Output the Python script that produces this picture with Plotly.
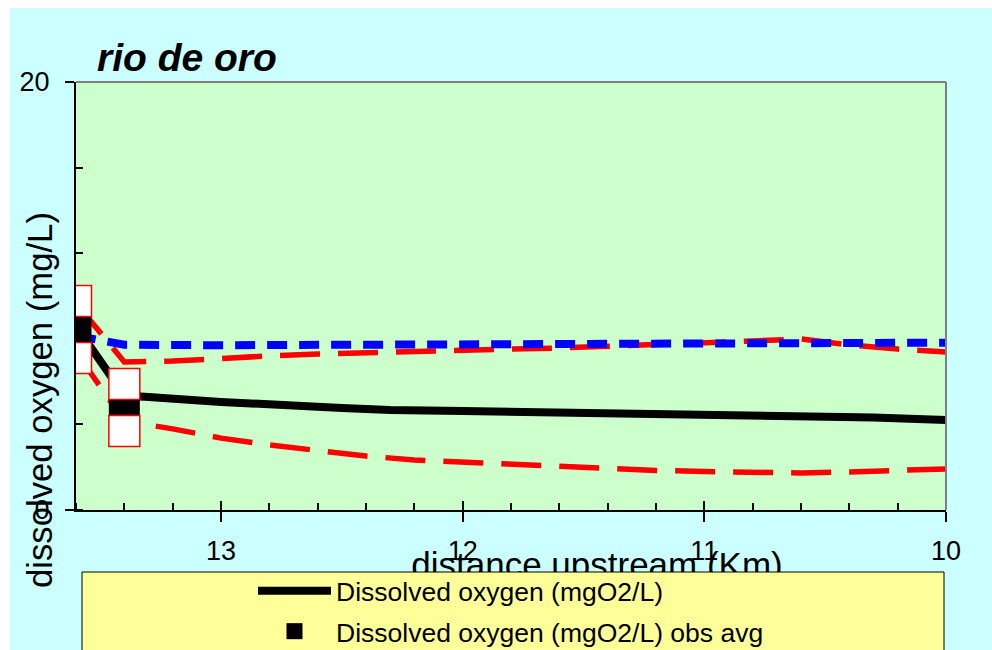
import plotly.graph_objects as go

# ---------------- data ----------------
model_km = [13.6, 13.4, 13.3, 13.0, 12.5, 12.3, 12.0, 11.5, 11.0, 10.6, 10.3, 10.0]
model_do = [8.60, 5.35, 5.28, 5.05, 4.77, 4.67, 4.63, 4.56, 4.49, 4.44, 4.32, 4.21]

sat_km = [13.6, 13.4, 13.0, 12.34, 12.0, 11.43, 11.0, 10.69, 10.0]
sat_do = [8.15, 7.72, 7.70, 7.71, 7.71, 7.74, 7.74, 7.75, 7.82]

band_km = [13.6, 13.4, 13.2, 13.0, 12.8, 12.6, 12.4, 12.2, 12.0, 11.8, 11.6, 11.4,
           11.2, 11.0, 10.8, 10.6, 10.4, 10.2, 10.0]
max_do = [9.67, 6.92, 6.96, 7.10, 7.20, 7.29, 7.36, 7.43, 7.48, 7.52, 7.57, 7.64,
          7.71, 7.80, 7.90, 7.99, 7.71, 7.52, 7.38]
min_do = [7.38, 4.16, 3.79, 3.36, 3.04, 2.76, 2.52, 2.34, 2.24, 2.10, 2.01, 1.92,
          1.85, 1.80, 1.75, 1.73, 1.78, 1.85, 1.92]

obs_km = [13.6, 13.4]
obs_avg = [8.41, 4.81]
obs_min = [7.10, 3.69]
obs_max = [9.77, 5.89]

x_ticks = [13, 12, 11, 10]
X_RANGE = [13.6, 10.0]
Y_RANGE = [0, 20]

# ---------------- layout helpers ----------------
W, H = 992, 650
L, R, T, B = 76, 946, 82, 510


def fx(px):
    return px / W


def fy(py):
    return 1 - py / H


FONT = "Liberation Sans, Arial, sans-serif"
BLACK = "#000000"

fig = go.Figure()

fig.add_trace(go.Scatter(x=band_km, y=min_do, mode="lines", name="Dissolved oxygen (mgO2/L) min",
                         line=dict(color="#FF0000", width=5.5, dash="40px,18px"), showlegend=False))
fig.add_trace(go.Scatter(x=band_km, y=max_do, mode="lines", name="Dissolved oxygen (mgO2/L) max",
                         line=dict(color="#FF0000", width=5.5, dash="40px,18px"), showlegend=False))
fig.add_trace(go.Scatter(x=sat_km, y=sat_do, mode="lines", name="Oxygen saturation (mgO2/L)",
                         line=dict(color="#0000FF", width=8, dash="20px,12px"), showlegend=False))
fig.add_trace(go.Scatter(x=model_km, y=model_do, mode="lines", name="Dissolved oxygen (mgO2/L)",
                         line=dict(color=BLACK, width=8), legendrank=1, legendgroup="g1"))
fig.add_trace(go.Scatter(x=obs_km, y=obs_avg, mode="markers", name="Dissolved oxygen (mgO2/L) obs avg",
                         marker=dict(symbol="square", size=31, color=BLACK), legendrank=2, legendgroup="g2"))
fig.add_trace(go.Scatter(x=obs_km, y=obs_min, mode="markers", name="Dissolved oxygen (mgO2/L) obs min",
                         marker=dict(symbol="square", size=31, color="#FFFFFF",
                                     line=dict(color="#FF0000", width=1.5)), showlegend=False))
fig.add_trace(go.Scatter(x=obs_km, y=obs_max, mode="markers", name="Dissolved oxygen (mgO2/L) obs max",
                         marker=dict(symbol="square", size=31, color="#FFFFFF",
                                     line=dict(color="#FF0000", width=1.5)), showlegend=False))

# overlay axes for the inward half of the crossing major ticks
fig.add_trace(go.Scatter(x=[X_RANGE[0]], y=[Y_RANGE[0]], xaxis="x2", yaxis="y2", mode="markers",
                         marker=dict(opacity=0), showlegend=False, hoverinfo="skip"))

# x-axis title on a full-figure pixel subplot, drawn under the legend box (clipped like the original)
fig.add_trace(go.Scatter(x=[597], y=[568], xaxis="x3", yaxis="y3", mode="text",
                         text=["distance upstream (Km)"],
                         textfont=dict(family=FONT, size=35, color=BLACK),
                         cliponaxis=False, showlegend=False, hoverinfo="skip"))

dom_x = [fx(L), fx(R)]
dom_y = [fy(B), fy(T)]

fig.update_layout(
    width=W, height=H,
    margin=dict(l=0, r=0, t=0, b=0, autoexpand=False),
    paper_bgcolor="#CCFFFF",
    plot_bgcolor="rgba(0,0,0,0)",
    title=dict(text="rio de oro", x=fx(97), xref="paper", xanchor="left",
               y=1 - 57 / H, yref="container", yanchor="middle",
               font=dict(family=FONT, size=39, color=BLACK, weight="bold", style="italic")),
    xaxis=dict(domain=dom_x, anchor="y", range=X_RANGE, tickmode="array", tickvals=x_ticks,
               ticktext=[str(v) for v in x_ticks],
               ticks="outside", ticklen=10, tickwidth=2, tickcolor=BLACK,
               ticklabelstandoff=6,
               minor=dict(ticks="inside", ticklen=7, tickwidth=2, tickcolor=BLACK, dtick=0.2, tick0=10),
               showline=True, linecolor=BLACK, linewidth=2, showgrid=False, zeroline=False,
               tickfont=dict(family=FONT, size=27, color=BLACK)),
    yaxis=dict(domain=dom_y, anchor="x", range=Y_RANGE, tick0=0, dtick=20,
               ticks="outside", ticklen=9, tickwidth=2, tickcolor=BLACK,
               ticklabelstandoff=10,
               minor=dict(ticks="inside", ticklen=7, tickwidth=2, tickcolor=BLACK, dtick=4, tick0=0),
               showline=True, linecolor=BLACK, linewidth=2, showgrid=False, zeroline=False,
               tickfont=dict(family=FONT, size=27, color=BLACK)),
    xaxis2=dict(overlaying="x", matches="x", side="bottom", anchor="y", showticklabels=False,
                ticks="inside", ticklen=9, tickwidth=2, tickcolor=BLACK,
                tickmode="array", tickvals=x_ticks, showgrid=False, showline=False, zeroline=False),
    yaxis2=dict(overlaying="y", matches="y", side="left", anchor="x", showticklabels=False,
                ticks="inside", ticklen=9, tickwidth=2, tickcolor=BLACK,
                tickmode="array", tickvals=[0, 20], showgrid=False, showline=False, zeroline=False),
    xaxis3=dict(domain=[0, 1], anchor="y3", range=[0, W], visible=False, fixedrange=True),
    yaxis3=dict(domain=[0, 1], anchor="x3", range=[H, 0], visible=False, fixedrange=True),
    legend=dict(x=fx(253), y=fy(567), xanchor="left", yanchor="top", bgcolor="rgba(0,0,0,0)",
                borderwidth=0, itemwidth=73, tracegroupgap=3,
                font=dict(family=FONT, size=26.5, color=BLACK)),
    annotations=[dict(text="dissolved oxygen (mg/L)", textangle=-90, x=fx(40), y=fy(400),
                      xref="paper", yref="paper", showarrow=False, xanchor="center", yanchor="middle",
                      font=dict(family=FONT, size=34.7, color=BLACK))],
    shapes=[
        # plot area background
        dict(type="rect", xref="paper", yref="paper", x0=fx(L), x1=fx(R), y0=fy(B), y1=fy(T),
             fillcolor="#CCFFCC", line=dict(width=0), layer="below"),
        # white outer border strips
        dict(type="rect", xref="paper", yref="paper", x0=-0.01, x1=fx(10), y0=-0.01, y1=1.01,
             fillcolor="#FFFFFF", line=dict(width=0), layer="above"),
        dict(type="rect", xref="paper", yref="paper", x0=-0.01, x1=1.01, y0=fy(8), y1=1.01,
             fillcolor="#FFFFFF", line=dict(width=0), layer="above"),
        # plot-area border (top / right, gray)
        dict(type="line", xref="paper", yref="paper", x0=fx(L), x1=fx(R), y0=fy(T), y1=fy(T),
             line=dict(color="#808080", width=2), layer="above"),
        dict(type="line", xref="paper", yref="paper", x0=fx(R), x1=fx(R), y0=fy(B), y1=fy(T),
             line=dict(color="#808080", width=2), layer="above"),
        # legend box
        dict(type="rect", xref="paper", yref="paper", x0=fx(82), x1=fx(944), y0=-0.2, y1=fy(572),
             fillcolor="#FFFF99", line=dict(color=BLACK, width=1), layer="above"),
    ],
)

fig.write_html("out.html")
